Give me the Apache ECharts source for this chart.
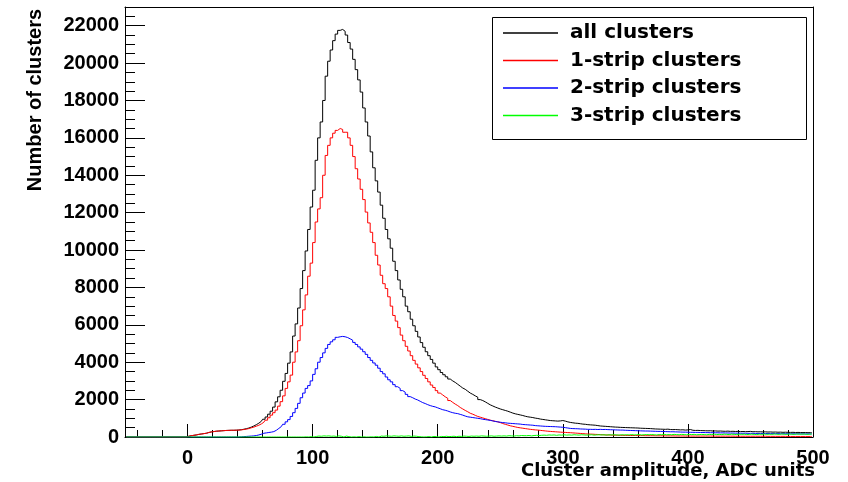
<!DOCTYPE html>
<html><head><meta charset="utf-8">
<script src="https://cdn.jsdelivr.net/npm/echarts@6/dist/echarts.min.js"></script>
<style>html,body{margin:0;padding:0;background:#fff}#c{width:848px;height:482px}</style>
</head><body><div id="c"></div>
<script>
// Histogram binning: bins of width 2 ADC units from -50 to 500 (275 bins)
const binLow = -50;
const binWidth = 2;
const xRange = [-50, 500];
const yRange = [0, 23000];
const seriesNames = ['all clusters', '1-strip clusters', '2-strip clusters', '3-strip clusters'];
const seriesColors = ['#000000', '#ff0000', '#0000ff', '#00ff00'];

// each row = 10 bins = 20 ADC units, rows start at -50, -30, -10, 10, ...
const allClusters = [
  0,0,0,0,0,0,0,0,0,0,
  0,0,0,0,0,0,0,0,0,0,
  0,0,0,0,0,40,70,90,110,140,
  160,180,200,240,270,290,310,320,330,340,
  350,355,360,360,365,375,390,415,445,480,
  530,590,660,740,840,950,1070,1220,1380,1600,
  1880,2150,2500,2980,3400,3950,4550,5400,6050,6900,
  7940,8900,9950,11100,12300,13200,14800,16000,16850,18000,
  19300,20100,20700,21200,21550,21750,21800,21700,21500,21100,
  20750,20200,19650,19100,18450,17600,16850,16100,15250,14400,
  13700,13100,12400,11700,11100,10600,10100,9400,8900,8400,
  7900,7500,7000,6700,6300,5950,5650,5350,5050,4800,
  4560,4350,4150,3950,3750,3600,3450,3330,3220,3100,
  3000,2920,2820,2720,2620,2550,2450,2350,2280,2200,
  2130,2000,1950,1880,1800,1720,1660,1600,1550,1500,
  1460,1420,1380,1330,1280,1240,1210,1180,1150,1110,
  1080,1060,1040,1010,990,960,940,920,900,880,
  870,860,850,860,880,850,810,780,760,740,
  730,710,690,680,660,650,640,630,610,590,
  580,570,560,550,540,530,525,515,510,505,
  500,495,490,485,480,470,465,460,455,450,
  440,430,425,420,415,410,420,400,395,400,
  390,380,385,370,380,400,360,350,355,345,
  340,335,330,335,320,325,315,320,310,305,
  315,300,305,295,300,290,295,285,290,300,
  280,285,275,280,270,275,265,270,260,265,
  255,260,250,255,250,245,250,240,245,240,
  235,240,230,235,230
];
const oneStrip = [
  0,0,0,0,0,0,0,0,0,0,
  0,0,0,0,0,0,0,0,0,0,
  0,0,0,0,0,40,70,90,110,140,
  160,180,200,240,270,290,310,320,330,340,
  350,355,360,360,365,370,380,400,420,450,
  490,530,580,630,700,790,900,1030,1170,1300,
  1440,1650,1890,2200,2600,2950,3310,4000,4550,5150,
  5950,6800,7600,8600,9300,10400,11500,12200,12800,14000,
  15060,15600,16000,16250,16400,16500,16450,16300,16300,16000,
  15600,15000,14350,13800,13250,12700,12030,11450,10950,10400,
  9720,9200,8650,8200,7940,7500,7000,6500,6200,5850,
  5450,5150,4850,4600,4350,4100,3900,3700,3500,3300,
  3130,2950,2780,2650,2480,2350,2250,2150,2070,1950,
  1850,1760,1680,1580,1500,1420,1350,1270,1220,1160,
  1100,1060,1020,980,940,900,870,840,810,770,
  720,680,640,600,570,540,510,490,470,450,
  430,410,395,380,370,355,340,325,310,300,
  290,280,270,260,250,245,235,230,220,210,
  200,190,180,170,160,155,150,140,135,125,
  120,110,110,105,100,95,95,90,90,85,
  85,80,80,80,75,75,75,70,70,70,
  70,65,65,65,65,60,60,60,60,55,
  55,55,55,50,50,50,50,50,50,50,
  50,50,50,50,50,45,45,45,45,45,
  45,45,45,40,40,40,40,40,40,40,
  40,40,40,40,40,40,35,35,35,35,
  35,35,35,35,30,30,30,30,30,30,
  30,30,30,30,30
];
const twoStrip = [
  0,0,0,0,0,0,0,0,0,0,
  0,0,0,0,0,0,0,0,0,0,
  0,0,0,0,0,0,0,0,0,0,
  0,0,0,0,0,0,0,0,0,0,
  0,0,0,0,0,0,10,20,30,40,
  50,60,80,110,150,200,220,240,260,290,
  360,460,560,680,810,930,1100,1300,1530,1800,
  2100,2350,2600,2750,3000,3350,3650,4000,4250,4500,
  4740,4950,5090,5200,5330,5360,5380,5360,5320,5250,
  5180,5060,4950,4820,4700,4560,4420,4250,4100,3960,
  3840,3680,3500,3380,3210,3060,2950,2800,2690,2600,
  2480,2400,2280,2160,2100,2030,1980,1910,1840,1790,
  1730,1680,1640,1610,1560,1510,1460,1430,1390,1340,
  1300,1270,1250,1210,1170,1120,1080,1060,1040,1020,
  1000,980,950,930,910,890,860,830,810,790,
  770,760,740,730,720,710,700,690,670,660,
  650,640,630,610,600,590,580,570,565,560,
  555,550,540,530,520,500,480,460,450,445,
  440,430,425,420,410,410,405,410,400,410,
  400,405,395,390,385,380,375,370,370,360,
  355,350,345,340,335,330,325,320,320,315,
  310,305,300,300,295,290,285,280,280,275,
  270,265,260,260,255,250,250,245,245,240,
  240,235,235,230,230,225,225,220,220,215,
  215,210,210,205,205,200,200,200,195,195,
  195,190,190,190,185,185,185,180,180,180,
  180,175,175,175,175,170,170,170,170,170,
  165,165,165,165,165
];
const threeStrip = [
  0,0,0,0,0,0,0,0,0,0,
  0,0,0,0,0,0,0,0,0,0,
  0,0,0,0,0,0,0,0,0,0,
  0,0,0,0,0,0,0,0,0,0,
  0,0,0,0,0,0,0,0,0,0,
  0,0,0,0,0,0,0,0,0,0,
  0,0,0,0,0,0,0,0,0,0,
  0,0,10,0,20,0,30,50,40,60,
  50,60,40,50,30,60,40,0,50,20,
  0,10,0,20,0,10,0,0,10,0,
  30,0,50,40,60,50,40,60,50,40,
  60,40,50,60,30,50,40,20,10,0,
  10,20,0,30,20,0,30,20,40,20,
  30,40,20,40,30,50,40,30,50,40,
  50,40,60,50,40,50,60,40,50,60,
  50,60,50,70,60,50,70,60,80,70,
  70,80,60,80,90,80,90,100,90,110,
  100,110,90,110,100,120,100,110,100,120,
  110,100,120,110,100,110,120,100,110,120,
  110,120,100,120,110,120,110,100,120,110,
  120,110,130,110,120,130,110,120,130,120,
  130,120,110,130,120,140,120,130,120,140,
  130,120,140,130,120,140,130,140,120,130,
  140,130,120,140,130,150,130,140,130,150,
  140,130,150,140,130,150,140,150,130,140,
  150,140,130,150,140,160,140,150,140,160,
  150,140,160,150,140,160,150,140,160,150,
  150,160,140,150,160
];
const seriesValues = [allClusters, oneStrip, twoStrip, threeStrip];

function toBins(values) {
  return values.map((v, i) => [binLow + binWidth * (i + 0.5), v]);
}

const boldTick = {fontFamily: 'Liberation Sans', fontWeight: 'bold', fontSize: 20, color: '#000', formatter: v => String(v)};
const frameAxis = {
  axisLine: {show: true, onZero: false, lineStyle: {color: '#000', width: 1}},
  axisTick: {show: false}, axisLabel: {show: false}, splitLine: {show: false}
};

const chart = echarts.init(document.getElementById('c'), null, {renderer: 'canvas'});
chart.setOption({
  animation: false,
  backgroundColor: '#fff',
  grid: {left: 125, right: 35, top: 7, bottom: 45},
  xAxis: [{
    type: 'value', min: xRange[0], max: xRange[1], splitNumber: 5, position: 'bottom',
    axisLine: {show: true, onZero: false, lineStyle: {color: '#000', width: 1}},
    axisTick: {show: true, inside: true, length: 13, lineStyle: {color: '#000', width: 1}},
    minorTick: {show: true, splitNumber: 5, length: 7, lineStyle: {color: '#000', width: 1}},
    axisLabel: Object.assign({show: true, margin: 11, showMinLabel: false, showMaxLabel: true}, boldTick),
    splitLine: {show: false}
  }, Object.assign({type: 'value', min: xRange[0], max: xRange[1], position: 'top'}, frameAxis)],
  yAxis: [{
    type: 'value', min: yRange[0], max: yRange[1], interval: 2000, position: 'left',
    axisLine: {show: true, onZero: false, lineStyle: {color: '#000', width: 1}},
    axisTick: {show: true, inside: true, length: 20, lineStyle: {color: '#000', width: 1}},
    minorTick: {show: true, splitNumber: 4, length: 10, lineStyle: {color: '#000', width: 1}},
    axisLabel: Object.assign({show: true, margin: 6, showMaxLabel: false}, boldTick),
    splitLine: {show: false}
  }, Object.assign({type: 'value', min: yRange[0], max: yRange[1], position: 'right'}, frameAxis)],
  legend: {
    orient: 'vertical', left: 503, top: 23, itemWidth: 55, itemHeight: 14, itemGap: 7.5,
    padding: 0, z: 10, selectedMode: false,
    icon: 'path://M0,0H55V1.6H0Z',
    data: seriesNames,
    textStyle: {fontFamily: 'DejaVu Sans', fontWeight: 'bold', fontSize: 20, color: '#000', lineHeight: 20, padding: [0, 0, 0, 7]}
  },
  graphic: [
    {type: 'rect', z: 1, shape: {x: 492.5, y: 17.5, width: 314, height: 122},
     style: {fill: '#fff', stroke: '#000', lineWidth: 1}},
    {type: 'text', x: 815, y: 471,
     style: {text: 'Cluster amplitude, ADC units', fontFamily: 'DejaVu Sans', fontWeight: 'bold', fontSize: 18, fill: '#000', align: 'right', verticalAlign: 'middle'}},
    {type: 'text', x: 35, y: 100, rotation: Math.PI / 2,
     style: {text: 'Number of clusters', fontFamily: 'Liberation Sans', fontWeight: 'bold', fontSize: 20, fill: '#000', align: 'center', verticalAlign: 'middle'}}
  ],
  series: seriesNames.map((name, k) => ({
    name: name, type: 'line', step: 'middle', symbol: 'none', showSymbol: false,
    xAxisIndex: 0, yAxisIndex: 0,
    silent: true, clip: true,
    data: toBins(seriesValues[k]),
    lineStyle: {color: seriesColors[k], width: 1},
    itemStyle: {color: seriesColors[k]},
    emphasis: {disabled: true}
  }))
});
</script></body></html>
